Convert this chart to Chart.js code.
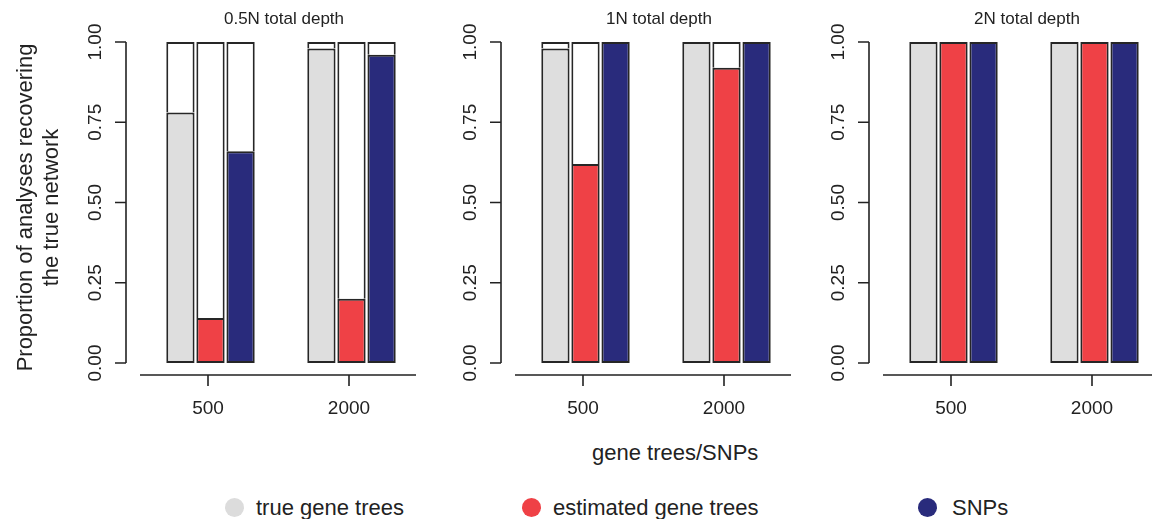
<!DOCTYPE html>
<html>
<head>
<meta charset="utf-8">
<script src="https://cdn.jsdelivr.net/npm/chart.js@4/dist/chart.umd.min.js"></script>
<style>
  html, body { margin: 0; padding: 0; background: #fff; overflow: hidden; }
  body { width: 1152px; height: 519px; position: relative; font-family: "Liberation Sans", Arial, sans-serif; color: #222; }
  canvas { position: absolute; top: 0; }
  .txt { position: absolute; white-space: nowrap; line-height: 1; }
  .dot { position: absolute; width: 19px; height: 19px; border-radius: 50%; }
</style>
</head>
<body>
<canvas id="p0" width="430" height="430" style="left:0px"></canvas>
<canvas id="p1" width="430" height="430" style="left:375px"></canvas>
<canvas id="p2" width="430" height="430" style="left:743px"></canvas>

<div class="txt" style="left:592px; top:442px; font-size:22px;">gene trees/SNPs</div>

<div class="dot" style="left:225px; top:498px; background:#dcdcdc;"></div>
<div class="txt" style="left:256px; top:497px; font-size:22px;">true gene trees</div>
<div class="dot" style="left:522px; top:498px; background:#ef4146;"></div>
<div class="txt" style="left:553px; top:497px; font-size:22px;">estimated gene trees</div>
<div class="dot" style="left:918px; top:498px; background:#292b7c;"></div>
<div class="txt" style="left:952px; top:497px; font-size:22px;">SNPs</div>

<script>
// data
var depths = ['0.5N total depth', '1N total depth', '2N total depth'];
var groups = ['500', '2000'];
var trueGene = [[0.78, 0.98], [0.98, 1.00], [1.00, 1.00]];
var estGene  = [[0.14, 0.20], [0.62, 0.92], [1.00, 1.00]];
var snps     = [[0.66, 0.96], [1.00, 1.00], [1.00, 1.00]];
var yTicks = [0, 0.25, 0.5, 0.75, 1];
var yTickLabels = ['0.00', '0.25', '0.50', '0.75', '1.00'];

var colors = ['#dedede', '#ef4146', '#292b7c'];
var edge = '#262626';
var font = '"Liberation Sans", Arial, sans-serif';

function rest(vals) {
    return vals.map(function (v) { return v < 1 ? +(1 - v).toFixed(4) : null; });
}

function makeSets(p) {
    var series = [trueGene[p], estGene[p], snps[p]];
    var sets = [];
    series.forEach(function (vals, i) {
        sets.push({ data: vals, stack: 's' + i, backgroundColor: colors[i],
                    borderColor: edge, borderWidth: 2, borderSkipped: false });
        sets.push({ data: rest(vals), stack: 's' + i, backgroundColor: '#ffffff',
                    borderColor: edge, borderWidth: 2, borderSkipped: 'bottom' });
    });
    return sets;
}

// R-style axes, drawn off the library scales
var rAxes = {
    id: 'rAxes',
    afterDraw: function (chart, args, opts) {
        var c = chart.ctx, a = chart.chartArea;
        var ys = chart.scales.y, xs = chart.scales.x;
        c.save();
        c.strokeStyle = '#222';
        c.fillStyle = '#222';
        c.lineWidth = 1.6;

        // y axis
        var ax = a.left - 14;
        c.beginPath();
        c.moveTo(ax, ys.getPixelForValue(0));
        c.lineTo(ax, ys.getPixelForValue(1));
        yTicks.forEach(function (t) {
            var py = ys.getPixelForValue(t);
            c.moveTo(ax, py);
            c.lineTo(ax - 11, py);
        });
        c.stroke();
        c.font = '19px ' + font;
        c.textAlign = 'center';
        c.textBaseline = 'middle';
        yTicks.forEach(function (t, i) {
            c.save();
            c.translate(ax - 30, ys.getPixelForValue(t));
            c.rotate(-Math.PI / 2);
            c.fillText(yTickLabels[i], 0, 0);
            c.restore();
        });

        // x axis
        var ay = a.bottom + 12;
        c.beginPath();
        c.moveTo(a.left, ay);
        c.lineTo(a.right - 6, ay);
        groups.forEach(function (g, i) {
            var px = xs.getPixelForValue(i) - 2.5;
            c.moveTo(px, ay);
            c.lineTo(px, ay + 11);
        });
        c.stroke();
        groups.forEach(function (g, i) {
            c.fillText(g, xs.getPixelForValue(i) - 2.5, 409);
        });

        // panel title
        c.font = '17px ' + font;
        c.textBaseline = 'alphabetic';
        c.fillText(opts.title, a.left + 144, 24);

        // y title, first panel only
        if (opts.yTitle) {
            c.font = '22px ' + font;
            c.save();
            c.translate(32, (ys.getPixelForValue(0) + ys.getPixelForValue(1)) / 2 + 5);
            c.rotate(-Math.PI / 2);
            c.fillText('Proportion of analyses recovering', 0, 0);
            c.fillText('the true network', 0, 26);
            c.restore();
        }
        c.restore();
    }
};

depths.forEach(function (d, p) {
    new Chart(document.getElementById('p' + p), {
        type: 'bar',
        data: { labels: groups, datasets: makeSets(p) },
        options: {
            responsive: false,
            animation: false,
            layout: { padding: { left: 140, right: 8, top: 42, bottom: 67 } },
            datasets: { bar: { categoryPercentage: 0.64, barPercentage: 0.94 } },
            scales: {
                x: { display: false, stacked: true },
                y: { display: false, stacked: true, min: 0, max: 1 }
            },
            plugins: {
                legend: { display: false },
                tooltip: { enabled: false },
                rAxes: { title: d, yTitle: p === 0 }
            }
        },
        plugins: [rAxes]
    });
});
</script>
</body>
</html>
